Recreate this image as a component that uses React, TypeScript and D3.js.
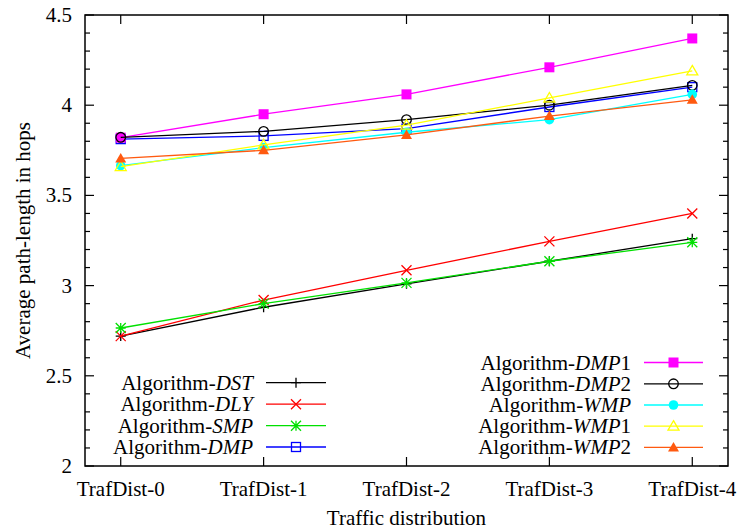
import React from "react";
import * as d3 from "d3";

const categories = ["TrafDist-0", "TrafDist-1", "TrafDist-2", "TrafDist-3", "TrafDist-4"];
const yTicks = [2, 2.5, 3, 3.5, 4, 4.5];

const dst = [2.72, 2.88, 3.01, 3.135, 3.26];
const dly = [2.72, 2.92, 3.085, 3.245, 3.40];
const smp = [2.765, 2.90, 3.015, 3.135, 3.24];
const dmp = [3.812, 3.83, 3.87, 3.99, 4.10];
const dmp1 = [3.82, 3.95, 4.06, 4.21, 4.37];
const dmp2 = [3.822, 3.855, 3.92, 4.0, 4.11];
const wmp = [3.665, 3.765, 3.85, 3.92, 4.06];
const wmp1 = [3.66, 3.78, 3.89, 4.04, 4.19];
const wmp2 = [3.705, 3.75, 3.835, 3.94, 4.03];

type Series = { base: string; ital: string; suffix: string; values: number[]; color: string; marker: string };

const seriesList: Series[] = [
  { base: "Algorithm-", ital: "DST", suffix: "", values: dst, color: "#000000", marker: "plus" },
  { base: "Algorithm-", ital: "DLY", suffix: "", values: dly, color: "#ff0000", marker: "cross" },
  { base: "Algorithm-", ital: "SMP", suffix: "", values: smp, color: "#00e000", marker: "star" },
  { base: "Algorithm-", ital: "DMP", suffix: "", values: dmp, color: "#0000ff", marker: "openSquare" },
  { base: "Algorithm-", ital: "DMP", suffix: "1", values: dmp1, color: "#ff00ff", marker: "filledSquare" },
  { base: "Algorithm-", ital: "DMP", suffix: "2", values: dmp2, color: "#000000", marker: "openCircle" },
  { base: "Algorithm-", ital: "WMP", suffix: "", values: wmp, color: "#00ffff", marker: "filledCircle" },
  { base: "Algorithm-", ital: "WMP", suffix: "1", values: wmp1, color: "#ffff00", marker: "openTriangle" },
  { base: "Algorithm-", ital: "WMP", suffix: "2", values: wmp2, color: "#ff5a10", marker: "filledTriangle" },
];

const W = 739, H = 532;
const L = 85, R = 728, T = 15, B = 466;
const FONT = "'Liberation Serif', 'Times New Roman', serif";

function Marker({ kind, x, y, color }: { kind: string; x: number; y: number; color: string }) {
  const s = 5;
  const sw = 1.3;
  switch (kind) {
    case "plus":
      return <path d={`M${x - s},${y}H${x + s}M${x},${y - s}V${y + s}`} stroke={color} strokeWidth={sw} fill="none" />;
    case "cross":
      return <path d={`M${x - s},${y - s}L${x + s},${y + s}M${x - s},${y + s}L${x + s},${y - s}`} stroke={color} strokeWidth={sw} fill="none" />;
    case "star":
      return (
        <path
          d={`M${x - s},${y}H${x + s}M${x},${y - s}V${y + s}M${x - s},${y - s}L${x + s},${y + s}M${x - s},${y + s}L${x + s},${y - s}`}
          stroke={color} strokeWidth={sw} fill="none" />
      );
    case "openSquare":
      return <rect x={x - 4.5} y={y - 4.5} width={9} height={9} stroke={color} strokeWidth={sw} fill="none" />;
    case "filledSquare":
      return <rect x={x - 5} y={y - 5} width={10} height={10} fill={color} />;
    case "openCircle":
      return <circle cx={x} cy={y} r={4.8} stroke={color} strokeWidth={sw} fill="none" />;
    case "filledCircle":
      return <circle cx={x} cy={y} r={4.8} fill={color} />;
    case "openTriangle":
      return <path d={`M${x},${y - 5.5}L${x + 5.5},${y + 4}L${x - 5.5},${y + 4}Z`} stroke={color} strokeWidth={sw} fill="none" />;
    case "filledTriangle":
      return <path d={`M${x},${y - 5.5}L${x + 5.5},${y + 4}L${x - 5.5},${y + 4}Z`} fill={color} />;
    default:
      return null;
  }
}

export default function App() {
  const x = d3.scaleLinear().domain([-0.25, 4.25]).range([L, R]);
  const y = d3.scaleLinear().domain([2, 4.5]).range([B, T]);
  const line = d3.line<number>().x((_, i) => x(i)).y((v) => y(v));
  const minorTicks = d3.range(20, 46).map((v) => v / 10).filter((v) => Math.abs(v * 2 - Math.round(v * 2)) > 1e-6);

  const leftLegend = { textX: 253, x1: 266, x2: 326, rows: [382.7, 404.2, 425.7, 447] };
  const rightLegend = { textX: 631, x1: 644, x2: 703, rows: [362.5, 383.8, 405, 426.2, 447.4] };

  const legendItems = seriesList.map((s, i) => {
    const grp = i < 4 ? leftLegend : rightLegend;
    const row = i < 4 ? grp.rows[i] : grp.rows[i - 4];
    return { s, grp, row };
  });

  return (
    <svg width={W} height={H} style={{ position: "absolute", left: 0, top: 0, background: "#fff" }} fontFamily={FONT}>
      <rect x={0} y={0} width={W} height={H} fill="#fff" />
      {/* y ticks */}
      {yTicks.map((t) => (
        <g key={"y" + t}>
          <line x1={L} x2={L + 9} y1={y(t)} y2={y(t)} stroke="#000" strokeWidth={1.2} />
          <line x1={R} x2={R - 9} y1={y(t)} y2={y(t)} stroke="#000" strokeWidth={1.2} />
          <text x={72} y={y(t)} fontSize={21} textAnchor="end" dominantBaseline="central">{String(t)}</text>
        </g>
      ))}
      {minorTicks.map((t) => (
        <g key={"m" + t}>
          <line x1={L} x2={L + 5} y1={y(t)} y2={y(t)} stroke="#000" strokeWidth={1.2} />
          <line x1={R} x2={R - 5} y1={y(t)} y2={y(t)} stroke="#000" strokeWidth={1.2} />
        </g>
      ))}
      {/* x ticks */}
      {categories.map((c, i) => (
        <g key={c}>
          <line x1={x(i)} x2={x(i)} y1={B} y2={B - 9} stroke="#000" strokeWidth={1.2} />
          <line x1={x(i)} x2={x(i)} y1={T} y2={T + 9} stroke="#000" strokeWidth={1.2} />
          <text x={x(i)} y={496} fontSize={21} textAnchor="middle">{c}</text>
        </g>
      ))}
      {/* axis titles */}
      <text x={(L + R) / 2} y={525} fontSize={21} textAnchor="middle">Traffic distribution</text>
      <text transform={`translate(30,${(T + B) / 2}) rotate(-90)`} fontSize={21} textAnchor="middle">Average path-length in hops</text>
      {/* legend */}
      {legendItems.map(({ s, grp, row }, i) => (
        <g key={"lg" + i}>
          <text x={grp.textX} y={row} fontSize={21} textAnchor="end" dominantBaseline="central">
            {s.base}
            <tspan fontStyle="italic">{s.ital}</tspan>
            {s.suffix}
          </text>
          <line x1={grp.x1} x2={grp.x2} y1={row} y2={row} stroke={s.color} strokeWidth={1.3} />
          <Marker kind={s.marker} x={(grp.x1 + grp.x2) / 2} y={row} color={s.color} />
        </g>
      ))}
      {/* series */}
      {seriesList.map((s, i) => (
        <g key={"s" + i}>
          <path d={line(s.values) || ""} stroke={s.color} strokeWidth={1.3} fill="none" />
          {s.values.map((v, j) => (
            <Marker key={j} kind={s.marker} x={x(j)} y={y(v)} color={s.color} />
          ))}
        </g>
      ))}
      {/* frame */}
      <rect x={L} y={T} width={R - L} height={B - T} fill="none" stroke="#000" strokeWidth={1.5} />
    </svg>
  );
}
